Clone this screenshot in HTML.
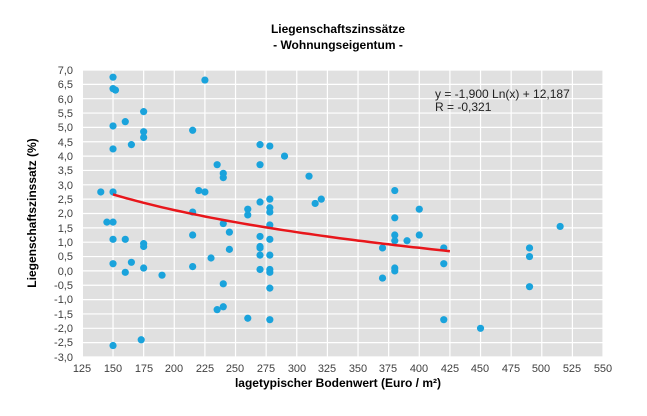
<!DOCTYPE html>
<html><head><meta charset="utf-8"><style>
body{margin:0;background:#fff;}
svg{display:block;font-family:"Liberation Sans",Arial,sans-serif;}
.t{font-size:11px;fill:#404040}
</style></head><body>
<svg id="s" width="647" height="416" viewBox="0 0 647 416">
<rect x="83" y="70" width="520" height="287" fill="#e0e0e0"/>
<g id="grid" stroke="#fff" stroke-width="1.2"></g>
<g id="pts" fill="#1aa3dc"></g>
<path id="trend" fill="none" stroke="#e8161b" stroke-width="2.5"/>
<text x="338" y="33" text-anchor="middle" font-weight="bold" font-size="12">Liegenschaftszinssätze</text>
<text x="338" y="49" text-anchor="middle" font-weight="bold" font-size="12">- Wohnungseigentum -</text>
<text x="338" y="387" text-anchor="middle" font-weight="bold" font-size="12">lagetypischer Bodenwert (Euro / m²)</text>
<text transform="translate(36,213) rotate(-90)" text-anchor="middle" font-weight="bold" font-size="12">Liegenschaftszinssatz (%)</text>
<text x="435" y="98" font-size="12" fill="#222">y =  -1,900 Ln(x) + 12,187</text>
<text x="435" y="111" font-size="12" fill="#222">R = -0,321</text>
<g class="t" text-anchor="end">
<text x="73" y="74">7,0</text><text x="73" y="88">6,5</text><text x="73" y="103">6,0</text><text x="73" y="117">5,5</text><text x="73" y="131">5,0</text><text x="73" y="146">4,5</text><text x="73" y="160">4,0</text><text x="73" y="174">3,5</text><text x="73" y="189">3,0</text><text x="73" y="203">2,5</text><text x="73" y="217">2,0</text><text x="73" y="232">1,5</text><text x="73" y="246">1,0</text><text x="73" y="260">0,5</text><text x="73" y="275">0,0</text><text x="73" y="289">-0,5</text><text x="73" y="303">-1,0</text><text x="73" y="318">-1,5</text><text x="73" y="332">-2,0</text><text x="73" y="346">-2,5</text><text x="73" y="361">-3,0</text>
</g>
<g class="t" text-anchor="middle">
<text x="82" y="372">125</text><text x="113" y="372">150</text><text x="144" y="372">175</text><text x="174" y="372">200</text><text x="205" y="372">225</text><text x="235" y="372">250</text><text x="266" y="372">275</text><text x="297" y="372">300</text><text x="327" y="372">325</text><text x="358" y="372">350</text><text x="388" y="372">375</text><text x="419" y="372">400</text><text x="450" y="372">425</text><text x="480" y="372">450</text><text x="511" y="372">475</text><text x="541" y="372">500</text><text x="572" y="372">525</text><text x="603" y="372">550</text>
</g>
</svg>
<script>
const X=v=>82.4+(v-125)*1.225, Y=v=>70+(7-v)*28.7;
const ns="http://www.w3.org/2000/svg";
const g=document.getElementById('grid');
for(let v=125;v<=550;v+=25){const l=document.createElementNS(ns,'line');l.setAttribute('x1',X(v));l.setAttribute('x2',X(v));l.setAttribute('y1',70);l.setAttribute('y2',357);g.appendChild(l);}
for(let v=-3;v<=7.01;v+=0.5){const l=document.createElementNS(ns,'line');l.setAttribute('y1',Y(v));l.setAttribute('y2',Y(v));l.setAttribute('x1',83);l.setAttribute('x2',603);g.appendChild(l);}
const d=[[140,2.75],[145,1.7],[150,6.75],[150,6.35],[152,6.3],[150,5.05],[150,4.25],[150,2.75],[150,1.7],[150,1.1],[150,0.25],[150,-2.6],[160,5.2],[160,1.1],[160,-0.05],[165,4.4],[165,0.3],[175,5.55],[175,4.85],[175,4.65],[175,0.95],[175,0.85],[175,0.1],[173,-2.4],[190,-0.15],[215,4.9],[215,2.05],[215,1.25],[215,0.15],[220,2.8],[225,6.65],[225,2.75],[230,0.45],[235,3.7],[235,-1.35],[240,3.4],[240,3.25],[240,1.65],[240,-0.45],[240,-1.25],[245,1.35],[245,0.75],[260,2.15],[260,1.95],[260,-1.65],[270,4.4],[270,3.7],[270,2.4],[270,1.2],[270,0.85],[270,0.8],[270,0.55],[270,0.05],[278,4.35],[278,2.5],[278,2.2],[278,2.05],[278,1.6],[278,1.1],[278,0.55],[278,0.05],[278,-0.05],[278,-0.6],[278,-1.7],[290,4.0],[310,3.3],[315,2.35],[320,2.5],[370,0.8],[370,-0.25],[380,2.8],[380,1.85],[380,1.25],[380,1.05],[380,0.1],[380,0.0],[390,1.05],[400,2.15],[400,1.25],[420,0.8],[420,0.25],[420,-1.7],[450,-2.0],[490,0.8],[490,0.5],[490,-0.55],[515,1.55]];
const p=document.getElementById('pts');
d.forEach(([a,b])=>{const c=document.createElementNS(ns,'circle');c.setAttribute('cx',X(a));c.setAttribute('cy',Y(b));c.setAttribute('r',3.6);p.appendChild(c);});
let s='';for(let v=150;v<=425;v+=5){s+=(v==150?'M':'L')+X(v).toFixed(1)+','+Y(-1.9*Math.log(v)+12.187).toFixed(1);}
document.getElementById('trend').setAttribute('d',s);
</script>
</body></html>
